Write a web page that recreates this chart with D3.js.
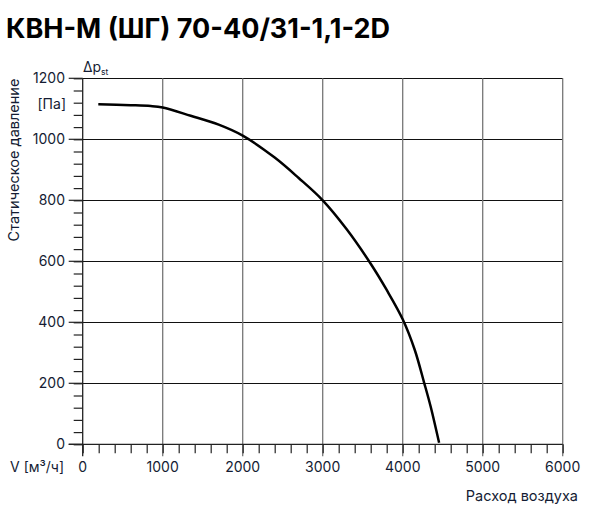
<!DOCTYPE html>
<html><head><meta charset="utf-8">
<script src="https://cdn.jsdelivr.net/npm/d3@7"></script>
<style>body{margin:0;background:#fff}svg{display:block}text{font-family:Inter,Roboto,sans-serif}</style>
</head><body><svg id="c" width="590" height="515"></svg>
<script>
const flow = [195, 600, 850, 1000, 1350, 1700, 2000, 2400, 2700, 3000, 3300, 3600, 3800, 4000, 4150, 4270, 4350, 4455];
const pressure = [1115, 1112, 1109, 1104, 1077, 1048, 1012, 940, 873, 800, 705, 592, 506, 410, 310, 200, 123, 5];
const xTicks = [0, 1000, 2000, 3000, 4000, 5000, 6000];
const yTicks = [0, 200, 400, 600, 800, 1000, 1200];
const title = "КВН-М (ШГ) 70-40/31-1,1-2D";

const svg = d3.select("#c");
const x = d3.scaleLinear().domain([0, 6000]).range([82.7, 562.7]);
const y = d3.scaleLinear().domain([0, 1200]).range([444.3, 78.3]);
const txt = "#141c33";
const fs = 14;

svg.append("text").attr("x", 6).attr("y", 38).attr("font-size", 27).attr("font-weight", 700)
  .attr("fill", "#000").text(title);

// horizontal gridlines
svg.append("g").selectAll("line").data(yTicks.filter(d => d > 0)).join("line")
  .attr("x1", x(0)).attr("x2", x(6000)).attr("y1", d => y(d)).attr("y2", d => y(d))
  .attr("stroke", "#111").attr("stroke-width", 1).attr("shape-rendering", "crispEdges");
// vertical gridlines
svg.append("g").selectAll("line").data(xTicks.filter(d => d > 0)).join("line")
  .attr("x1", d => x(d)).attr("x2", d => x(d)).attr("y1", y(1200)).attr("y2", y(0) + 12)
  .attr("stroke", "#777").attr("stroke-width", 1.3);

// y axis
const ya = svg.append("g").attr("transform", `translate(${x(0)},0)`)
  .call(d3.axisLeft(y).tickValues(d3.range(0, 1201, 40)).tickSize(9).tickFormat(""));
ya.select(".domain").remove();
ya.selectAll("line").attr("stroke", "#222").attr("stroke-width", 1.2);
svg.append("line").attr("x1", x(0)).attr("x2", x(0)).attr("y1", y(1200)).attr("y2", y(0) + 12)
  .attr("stroke", "#222").attr("stroke-width", 1.3);
svg.append("g").selectAll("line").data(yTicks).join("line")
  .attr("x1", x(0) - 14).attr("x2", x(0)).attr("y1", d => y(d)).attr("y2", d => y(d))
  .attr("stroke", "#222").attr("stroke-width", 1.2);
svg.append("g").selectAll("text").data(yTicks).join("text")
  .attr("x", 65).attr("y", d => y(d) + 5).attr("text-anchor", "end").attr("font-size", fs)
  .attr("fill", txt).text(d => d);

// x axis
const xa = svg.append("g").attr("transform", `translate(0,${y(0)})`)
  .call(d3.axisBottom(x).tickValues(d3.range(0, 6001, 200)).tickSize(9).tickFormat(""));
xa.select(".domain").remove();
xa.selectAll("line").attr("stroke", "#222").attr("stroke-width", 1.2);
svg.append("line").attr("x1", x(0) - 14).attr("x2", x(6000)).attr("y1", y(0)).attr("y2", y(0))
  .attr("stroke", "#222").attr("stroke-width", 1.3);
svg.append("g").selectAll("text").data(xTicks).join("text")
  .attr("x", d => x(d)).attr("y", 472).attr("text-anchor", "middle").attr("font-size", fs)
  .attr("fill", txt).text(d => d);

svg.append("text").attr("x", 64).attr("y", 472).attr("text-anchor", "end").attr("font-size", fs)
  .attr("fill", txt).text("V [м³/ч]");
svg.append("text").attr("x", 578).attr("y", 501).attr("text-anchor", "end").attr("font-size", 14.5)
  .attr("fill", txt).text("Расход воздуха");
svg.append("text").attr("x", 66).attr("y", 109).attr("text-anchor", "end").attr("font-size", fs)
  .attr("fill", txt).text("[Па]");
const dp = svg.append("text").attr("x", 83).attr("y", 72).attr("font-size", fs).attr("fill", txt);
dp.append("tspan").text("Δp");
dp.append("tspan").attr("font-size", 8.5).attr("dy", 3).text("st");
svg.append("text").attr("transform", "translate(19,160) rotate(-90)").attr("text-anchor", "middle")
  .attr("font-size", 14.5).attr("fill", txt).text("Статическое давление");

// curve
const pts = flow.map((f, i) => [f, pressure[i]]);
svg.append("path").datum(pts)
  .attr("d", d3.line().x(d => x(d[0])).y(d => y(d[1])).curve(d3.curveCatmullRom.alpha(0.5)))
  .attr("fill", "none").attr("stroke", "#000").attr("stroke-width", 2.5);
</script></body></html>
